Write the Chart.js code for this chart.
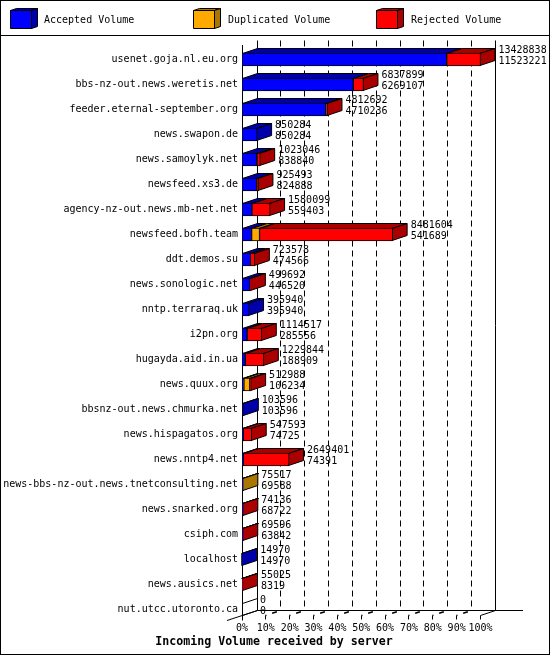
<!DOCTYPE html>
<html>
<head>
<meta charset="utf-8">
<style>
body { margin: 0; background: #fff; }
canvas { display: block; }
</style>
<script src="https://cdn.jsdelivr.net/npm/chart.js@4/dist/chart.umd.min.js"></script>
</head>
<body>
<canvas id="volumeChart" width="550" height="655"></canvas>
<script>
const hosts = [
    'usenet.goja.nl.eu.org', 'bbs-nz-out.news.weretis.net', 'feeder.eternal-september.org',
    'news.swapon.de', 'news.samoylyk.net', 'newsfeed.xs3.de', 'agency-nz-out.news.mb-net.net',
    'newsfeed.bofh.team', 'ddt.demos.su', 'news.sonologic.net', 'nntp.terraraq.uk', 'i2pn.org',
    'hugayda.aid.in.ua', 'news.quux.org', 'bbsnz-out.news.chmurka.net', 'news.hispagatos.org',
    'news.nntp4.net', 'news-bbs-nz-out.news.tnetconsulting.net', 'news.snarked.org', 'csiph.com',
    'localhost', 'news.ausics.net', 'nut.utcc.utoronto.ca'
];
const totalVolume = [
    13428838, 6837899, 4812692, 850284, 1023046, 925493, 1580099, 8481604, 723578, 499692, 395940, 1114517,
    1229844, 512988, 103596, 547593, 2649401, 75517, 74136, 69596, 14970, 55025, 0
];
const accepted = [
    11523221, 6269107, 4710236, 850284, 838840, 824888, 559403, 541689, 474566, 446520, 395940, 285556,
    188909, 106234, 103596, 74725, 74391, 69588, 68722, 63842, 14970, 8319, 0
];
const duplicated = [
    0, 0, 0, 0, 0, 0, 0, 447000, 0, 0, 0, 0,
    0, 335000, 0, 0, 0, 5929, 0, 0, 0, 0, 0
];
const rejected = [
    1905617, 568792, 102456, 0, 184206, 100605, 1020696, 7492915, 249012, 53172, 0, 828961,
    1040935, 71754, 0, 472868, 2575010, 0, 5414, 5754, 0, 46706, 0
];
const seriesNames = ['Accepted Volume', 'Duplicated Volume', 'Rejected Volume'];
const frontColors = ['#0000ff', '#ffaa00', '#ff0000'];
const darkColors = ['#0000aa', '#aa7700', '#aa0000'];
const percentTicks = ['0%', '10%', '20%', '30%', '40%', '50%', '60%', '70%', '80%', '90%', '100%'];
const chartTitle = 'Incoming Volume received by server';

const mono = '"DejaVu Sans Mono", monospace';
const depthX = 15;
const depthY = 5;

function face(ctx, pts, fill) {
    ctx.beginPath();
    ctx.moveTo(pts[0][0], pts[0][1]);
    pts.slice(1).forEach(p => ctx.lineTo(p[0], p[1]));
    ctx.closePath();
    if (fill) {
        ctx.fillStyle = fill;
        ctx.fill();
    }
    ctx.stroke();
}

function line(ctx, x1, y1, x2, y2) {
    ctx.beginPath();
    ctx.moveTo(x1, y1);
    ctx.lineTo(x2, y2);
    ctx.stroke();
}

// walls, grid and the fake 3d faces go under the bars
const depthPlugin = {
    id: 'depth',
    beforeDatasetsDraw(chart) {
        const ctx = chart.ctx;
        const x = chart.scales.x;
        const wallTop = 40.5;
        const floorY = 610.5;
        const frontY = floorY + depthY;
        ctx.save();
        ctx.strokeStyle = '#000';
        ctx.lineWidth = 1;

        percentTicks.forEach((t, i) => {
            const px = Math.floor(x.getPixelForValue(x.max * i / 10)) + 0.5;
            line(ctx, px, frontY, px, frontY + 4);
            ctx.setLineDash([6, 4]);
            if (i > 0 && i < 10) line(ctx, px + depthX, wallTop, px + depthX, floorY);
            ctx.setLineDash([1, 6, 5, 30]);
            ctx.lineWidth = 1.5;
            if (i > 0 && i < 10) line(ctx, px, frontY, px + depthX, floorY);
            ctx.lineWidth = 1;
            ctx.setLineDash([]);
        });

        const left = Math.floor(x.left) + 0.5;
        const right = Math.floor(x.right) + 0.5;
        line(ctx, left, 45, left, frontY + 5);
        line(ctx, left + depthX, wallTop, left + depthX, floorY);
        line(ctx, right + depthX, wallTop, right + depthX, floorY);
        line(ctx, left + depthX, floorY, 523, floorY);
        line(ctx, 227, 620.5, left + depthX, floorY);
        line(ctx, right, frontY, right + depthX, floorY);

        hosts.forEach((h, row) => {
            let last = -1;
            let end = null;
            chart.data.datasets.forEach((ds, d) => {
                const el = chart.getDatasetMeta(d).data[row];
                const top = el.y - el.height / 2 + 0.5;
                if (ds.data[row] > 0) {
                    const x0 = el.base + 0.5;
                    const x1 = el.x - 0.5;
                    face(ctx, [[x0, top], [x1, top], [x1 + depthX, top - depthY], [x0 + depthX, top - depthY]], darkColors[d]);
                    last = d;
                }
                end = el;
            });
            const top = end.y - end.height / 2 + 0.5;
            const bottom = end.y + end.height / 2 - 0.5;
            if (last >= 0) {
                const sx = end.x - 0.5;
                face(ctx, [[sx, top], [sx + depthX, top - depthY], [sx + depthX, bottom - depthY], [sx, bottom]], darkColors[last]);
            } else {
                line(ctx, left, top, left + depthX, top - depthY);
                line(ctx, left, bottom, left + depthX, bottom - depthY);
            }
        });
        ctx.restore();
    },
    afterDraw(chart) {
        const ctx = chart.ctx;
        const x = chart.scales.x;
        const y = chart.scales.y;
        ctx.save();
        ctx.font = '10px ' + mono;
        ctx.fillStyle = '#000';
        ctx.textBaseline = 'middle';
        ctx.textAlign = 'left';

        // value pairs at the end of every bar
        hosts.forEach((h, row) => {
            const px = x.getPixelForValue(totalVolume[row]) + depthX + 3;
            const py = y.getPixelForValue(row);
            ctx.fillText(String(totalVolume[row]), px, py - 9);
            ctx.fillText(String(accepted[row]), px, py + 2);
        });

        // legend
        const legendX = [10.5, 193.5, 376.5];
        const legendText = [44, 228, 411];
        ctx.strokeStyle = '#000';
        seriesNames.forEach((name, i) => {
            const lx = legendX[i];
            face(ctx, [[lx, 10.5], [lx + 6, 8.5], [lx + 27, 8.5], [lx + 21, 10.5]], darkColors[i]);
            face(ctx, [[lx + 21, 10.5], [lx + 27, 8.5], [lx + 27, 26.5], [lx + 21, 28.5]], darkColors[i]);
            face(ctx, [[lx, 10.5], [lx + 21, 10.5], [lx + 21, 28.5], [lx, 28.5]], frontColors[i]);
            ctx.fillStyle = '#000';
            ctx.fillText(name, legendText[i], 20);
        });

        // title sits off the plot centre, so the title plugin can't place it
        ctx.font = 'bold 11.6px ' + mono;
        ctx.textAlign = 'center';
        ctx.fillText(chartTitle, 274, 642);

        // frame
        ctx.strokeRect(0.5, 0.5, 549, 654);
        line(ctx, 0, 35.5, 550, 35.5);
        ctx.restore();
    }
};

new Chart(document.querySelector('#volumeChart'), {
    type: 'bar',
    data: {
        labels: hosts,
        datasets: [accepted, duplicated, rejected].map((values, i) => ({
            label: seriesNames[i],
            data: values,
            backgroundColor: frontColors[i],
            borderColor: '#000',
            borderWidth: 1,
            borderSkipped: false,
            barThickness: 13
        }))
    },
    options: {
        indexAxis: 'y',
        responsive: false,
        animation: false,
        devicePixelRatio: 1,
        layout: { padding: { top: 47, right: 69.5, left: 0, bottom: 19 } },
        plugins: {
            legend: { display: false },
            tooltip: { enabled: false }
        },
        scales: {
            x: {
                stacked: true,
                min: 0,
                max: 13428838,
                ticks: {
                    stepSize: 13428838 / 10,
                    autoSkip: false,
                    maxRotation: 0,
                    color: '#000',
                    font: { family: mono, size: 10 },
                    padding: 0,
                    callback: (v, i) => percentTicks[i]
                },
                grid: { display: false, drawTicks: false, tickLength: 0 },
                border: { display: false },
                afterFit(scale) { scale.height = 14; }
            },
            y: {
                stacked: true,
                ticks: {
                    autoSkip: false,
                    color: '#000',
                    font: { family: mono, size: 10 },
                    padding: 4
                },
                grid: { display: false, drawTicks: false, tickLength: 0 },
                border: { display: false },
                afterFit(scale) { scale.width = 242; }
            }
        }
    },
    plugins: [depthPlugin]
});
</script>
</body>
</html>
